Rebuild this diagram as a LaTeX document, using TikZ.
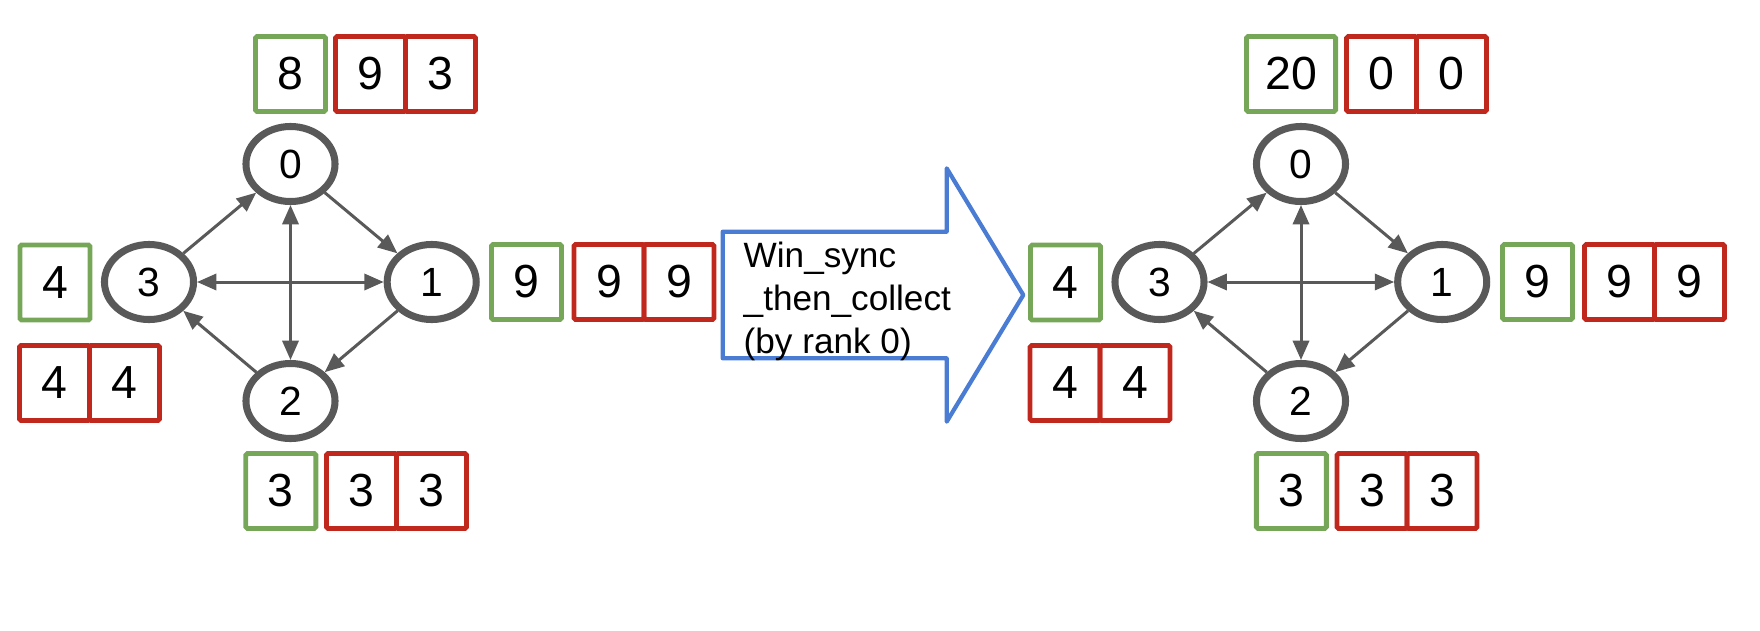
\documentclass[tikz,border=0pt]{standalone}
\usepackage{fontspec}
\setmainfont{Liberation Sans}
\usetikzlibrary{shapes,arrows.meta}
\definecolor{boxgreen}{RGB}{118,167,88}
\definecolor{boxred}{RGB}{192,40,30}
\definecolor{edgegray}{RGB}{89,89,89}
\definecolor{arrowblue}{RGB}{74,124,212}
\tikzset{
  grn/.style={draw=boxgreen, line width=1.4pt, rounded corners=0.5pt, minimum width=0.7cm, minimum height=0.75cm, inner sep=0pt, font=\fontsize{13.2}{15}\selectfont},
  rd/.style={grn, draw=boxred},
  rank/.style={ellipse, draw=edgegray, line width=2pt, minimum width=0.89cm, minimum height=0.75cm, inner sep=0pt, font=\fontsize{11.6}{13}\selectfont},
  link/.style={draw=edgegray, line width=0.85pt, -{Triangle[length=5.5pt,width=4.6pt]}},
  dlink/.style={link, {Triangle[length=5.5pt,width=4.6pt]}-{Triangle[length=5.5pt,width=4.6pt]}},
}
\newcommand{\grnbox}[4]{\node[grn] (#1) at (#2,#3) {#4};}
\newcommand{\redpair}[5]{\node[rd] (#1a) at (#2,#3) {#4}; \node[rd] (#1b) at (#2+70,#3) {#5};}

\begin{document}
\begin{tikzpicture}[x=0.01cm, y=-0.01cm]
    \useasboundingbox (0,0) rectangle (1760,630);
    % left graph
    \grnbox{lg0}{290.5}{74}{8}
    \redpair{lr0}{370.5}{74}{9}{3}
    \node[rank] (l0) at (290.5,164) {0};
    \node[rank] (l1) at (431.7,282) {1};
    \node[rank] (l2) at (290.5,401) {2};
    \node[rank] (l3) at (149,282) {3};
    \grnbox{lg3}{55}{282.5}{4}
    \redpair{lr3}{54.5}{383}{4}{4}
    \grnbox{lg1}{526.5}{282}{9}
    \redpair{lr1}{609}{282}{9}{9}
    \grnbox{lg2}{280.8}{491}{3}
    \redpair{lr2}{361.5}{491}{3}{3}
    \draw[link] (l3) -- (l0);
    \draw[link] (l0) -- (l1);
    \draw[link] (l1) -- (l2);
    \draw[link] (l2) -- (l3);
    \draw[dlink] (l0) -- (l2);
    \draw[dlink] (l3) -- (l1);
    % big arrow
    \draw[arrowblue, line width=1.2pt, line join=round] (722.7,231.7) -- (946.7,231.7) -- (946.7,168.3) -- (1023.3,295) -- (946.7,421.7) -- (946.7,358.3) -- (722.7,358.3) -- cycle;
    \node[anchor=north west, inner sep=0pt, align=left, font=\fontsize{10}{12.2}\selectfont] (op) at (743,241.7) {Win\_sync\\\_then\_collect\\(by rank 0)};
    % right graph
    \node[grn, minimum width=0.89cm] (rg0) at (1291,74) {20};
    \redpair{rr0}{1381.5}{74}{0}{0}
    \node[rank] (r0) at (1301,164) {0};
    \node[rank] (r1) at (1442.2,282) {1};
    \node[rank] (r2) at (1301,401) {2};
    \node[rank] (r3) at (1159.5,282) {3};
    \grnbox{rg3}{1065.5}{282.5}{4}
    \redpair{rr3}{1065}{383}{4}{4}
    \grnbox{rg1}{1537.5}{282}{9}
    \redpair{rr1}{1619.5}{282}{9}{9}
    \grnbox{rg2}{1291.3}{491}{3}
    \redpair{rr2}{1372}{491}{3}{3}
    \draw[link] (r3) -- (r0);
    \draw[link] (r0) -- (r1);
    \draw[link] (r1) -- (r2);
    \draw[link] (r2) -- (r3);
    \draw[dlink] (r0) -- (r2);
    \draw[dlink] (r3) -- (r1);
\end{tikzpicture}
\end{document}
